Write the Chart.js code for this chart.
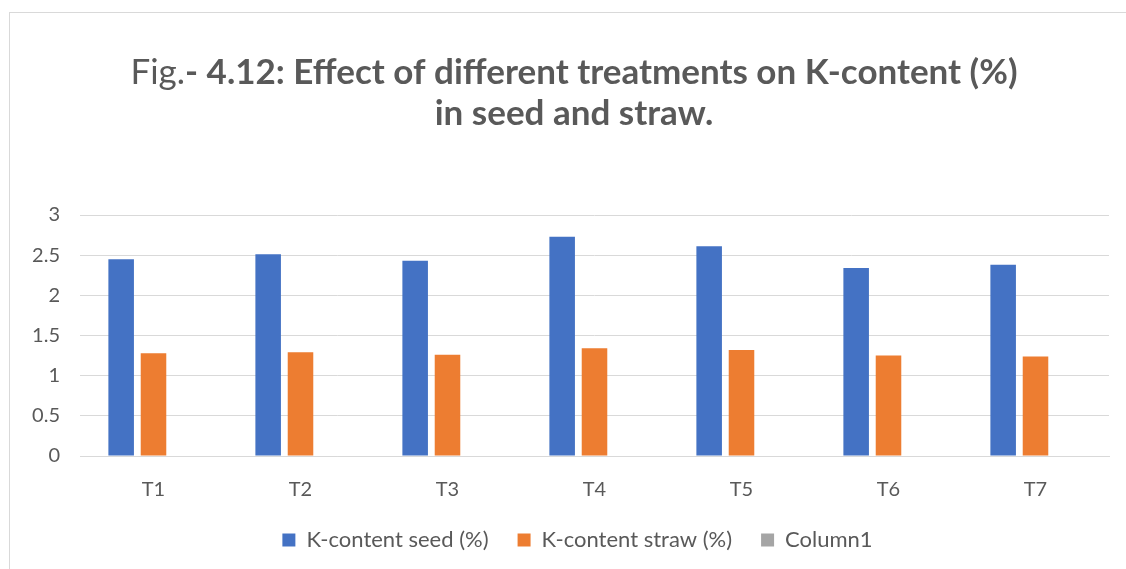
<!DOCTYPE html>
<html>
<head>
<meta charset="utf-8">
<script src="https://cdn.jsdelivr.net/npm/chart.js@4.4.0/dist/chart.umd.min.js"></script>
<style>
  html, body { margin: 0; padding: 0; background: #fff; }
  #wrap { position: relative; width: 1126px; height: 569px; overflow: hidden; }
  #frame { position: absolute; left: 9px; top: 12px; width: 1200px; height: 700px;
           border-left: 1px solid #d9d9d9; border-top: 1px solid #d9d9d9; }
  #c { position: absolute; left: 0; top: 0; }
</style>
</head>
<body>
<div id="wrap">
  <div id="frame"></div>
  <canvas id="c" width="1126" height="569"></canvas>
</div>
<script>
const categories = ['T1', 'T2', 'T3', 'T4', 'T5', 'T6', 'T7'];
const seedValues = [2.45, 2.51, 2.43, 2.73, 2.61, 2.34, 2.38];
const strawValues = [1.28, 1.29, 1.26, 1.34, 1.32, 1.25, 1.24];
const column1Values = [null, null, null, null, null, null, null];
const seriesNames = ['K-content seed (%)', 'K-content straw (%)', 'Column1'];
const titleLine1Regular = 'Fig.';
const titleLine1Bold = '- 4.12: Effect of different treatments on K-content (%)';
const titleLine2 = 'in seed and straw.';
const yTicks = [0, 0.5, 1, 1.5, 2, 2.5, 3];
const yTickLabels = ['0', '0.5', '1', '1.5', '2', '2.5', '3'];

const FONT = 'Lato, "Open Sans", sans-serif';
const TEXT = '#595959';

const titlePlugin = {
  id: 'mixedTitle',
  afterDraw(chart) {
    const ctx = chart.ctx;
    const size = 35;
    ctx.save();
    ctx.fillStyle = TEXT;
    ctx.textBaseline = 'middle';
    const regFont = `400 ${size}px ${FONT}`;
    const boldFont = `700 ${size}px ${FONT}`;
    ctx.font = regFont;
    const w1 = ctx.measureText(titleLine1Regular).width;
    ctx.font = boldFont;
    const w2 = ctx.measureText(titleLine1Bold).width;
    const cx = 574;
    let x = cx - (w1 + w2) / 2;
    ctx.textAlign = 'left';
    ctx.font = regFont;
    ctx.fillText(titleLine1Regular, x, 73);
    ctx.font = boldFont;
    ctx.fillText(titleLine1Bold, x + w1, 73);
    ctx.textAlign = 'center';
    ctx.fillText(titleLine2, cx, 114);
    ctx.restore();
  }
};

const legendShift = {
  id: 'legendShift',
  afterUpdate(chart) {
    const lg = chart.legend;
    if (!lg) return;
    lg.left += 23;
    lg.right += 23;
    if (lg.adjustHitBoxes) lg.adjustHitBoxes();
  }
};

new Chart(document.getElementById('c'), {
  type: 'bar',
  data: {
    labels: categories,
    datasets: [
      { label: seriesNames[0], data: seedValues, backgroundColor: '#4472C4' },
      { label: seriesNames[1], data: strawValues, backgroundColor: '#ED7D31' },
      { label: seriesNames[2], data: column1Values, backgroundColor: '#A5A5A5' }
    ]
  },
  options: {
    responsive: false,
    animation: false,
    devicePixelRatio: 1,
    layout: { padding: { top: 215, right: 17, left: 0, bottom: 8 } },
    datasets: { bar: { categoryPercentage: 0.66, barPercentage: 0.79 } },
    scales: {
      x: {
        grid: { display: false, drawTicks: false },
        border: { display: true, color: '#d9d9d9', width: 1 },
        ticks: { color: TEXT, font: { family: FONT, size: 20 }, padding: 22 },
        afterFit(s) { s.height = 44; }
      },
      y: {
        min: 0, max: 3,
        afterBuildTicks(s) { s.ticks = yTicks.map(v => ({ value: v })); },
        grid: { color: '#d9d9d9', lineWidth: 1, drawTicks: false },
        border: { display: false },
        ticks: {
          color: TEXT, font: { family: FONT, size: 20 }, padding: 20,
          callback(v) { const i = yTicks.indexOf(v); return i >= 0 ? yTickLabels[i] : ''; }
        },
        afterFit(s) { s.width = 80; }
      }
    },
    plugins: {
      title: { display: false },
      tooltip: { enabled: false },
      legend: {
        position: 'bottom',
        labels: {
          color: TEXT,
          font: { family: FONT, size: 22 },
          boxWidth: 13, boxHeight: 13,
          padding: 29
        }
      }
    }
  },
  plugins: [titlePlugin, legendShift]
});
</script>
</body>
</html>
